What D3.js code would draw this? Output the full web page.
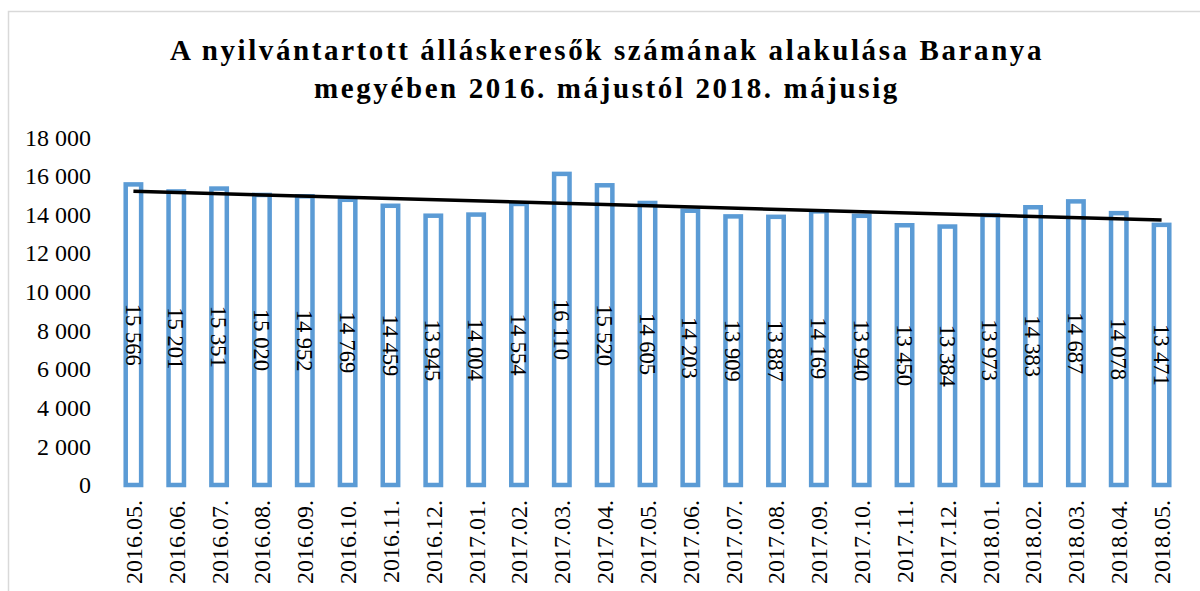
<!DOCTYPE html>
<html>
<head>
<meta charset="utf-8">
<script src="https://cdn.jsdelivr.net/npm/d3@7"></script>
<style>
    body { margin: 0; background: #fff; }
    text { font-family: 'Liberation Serif', 'Times New Roman', serif; fill: #000; }
</style>
</head>
<body>
<div id="chart"></div>
<script>
    var width = 1200,
        height = 591;

    var months = ['2016.05.', '2016.06.', '2016.07.', '2016.08.', '2016.09.', '2016.10.', '2016.11.', '2016.12.',
                  '2017.01.', '2017.02.', '2017.03.', '2017.04.', '2017.05.', '2017.06.', '2017.07.', '2017.08.',
                  '2017.09.', '2017.10.', '2017.11.', '2017.12.', '2018.01.', '2018.02.', '2018.03.', '2018.04.', '2018.05.'];
    var jobseekers = [15566, 15201, 15351, 15020, 14952, 14769, 14459, 13945, 14004, 14554, 16110, 15520, 14605,
                      14203, 13909, 13887, 14169, 13940, 13450, 13384, 13973, 14383, 14687, 14078, 13471];
    var yTicks = [0, 2000, 4000, 6000, 8000, 10000, 12000, 14000, 16000, 18000];
    var titleLines = ['A nyilvántartott álláskeresők számának alakulása Baranya',
                      'megyében 2016. májustól 2018. májusig'];

    var margin = {top: 137, right: 17, bottom: 106, left: 112};

    var fmt = function(v){ return d3.format(',')(v).replace(/,/g, ' '); };

    var svg = d3.select('#chart').append('svg')
        .attr('width', width)
        .attr('height', height);

    // chart area border
    svg.append('rect')
        .attr('x', 8.5).attr('y', 11.5)
        .attr('width', 1250).attr('height', 700)
        .style('fill', 'none')
        .style('stroke', '#d9d9d9')
        .style('stroke-width', 1.5);

    var x = d3.scaleBand()
        .domain(months)
        .range([margin.left, width - margin.right])
        .paddingInner(0.64)
        .paddingOuter(0.32);

    var y = d3.scaleLinear()
        .domain([0, 18000])
        .range([height - margin.bottom, margin.top + 0.4]);

    // title
    svg.append('text')
        .attr('text-anchor', 'middle')
        .style('font-weight', 'bold')
        .style('font-size', '29px')
        .style('letter-spacing', '2.6px')
        .selectAll('tspan')
        .data(titleLines)
        .enter().append('tspan')
        .attr('x', 607)
        .attr('y', function(d, i){ return 60 + i * 38; })
        .text(function(d){ return d; });

    // y axis labels
    var yAxis = d3.axisLeft(y)
        .tickValues(yTicks)
        .tickSize(0)
        .tickPadding(0)
        .tickFormat(fmt);

    svg.append('g')
        .attr('transform', 'translate(91,0)')
        .call(yAxis)
        .call(function(g){ g.select('.domain').remove(); })
        .selectAll('text')
        .style('font-size', '24px')
        .style('font-family', "'Liberation Serif', 'Times New Roman', serif");

    // x axis labels
    var xAxis = d3.axisBottom(x)
        .tickSize(0)
        .tickPadding(0);

    svg.append('g')
        .attr('transform', 'translate(0,' + (height - margin.bottom) + ')')
        .call(xAxis)
        .call(function(g){ g.select('.domain').remove(); })
        .selectAll('text')
        .attr('transform', 'rotate(-90)')
        .attr('x', -15)
        .attr('y', 0)
        .attr('dy', '0.35em')
        .attr('text-anchor', 'end')
        .style('font-size', '24px')
        .style('font-family', "'Liberation Serif', 'Times New Roman', serif");

    // bars
    svg.selectAll('rect.bar')
        .data(jobseekers)
        .enter().append('rect')
        .attr('class', 'bar')
        .attr('x', function(d, i){ return x(months[i]); })
        .attr('y', function(d){ return y(d); })
        .attr('width', x.bandwidth())
        .attr('height', function(d){ return y(0) - y(d); })
        .style('fill', '#fff')
        .style('stroke', '#5b9bd5')
        .style('stroke-width', 4.5);

    // data labels, rotated, centred in each bar
    svg.selectAll('text.label')
        .data(jobseekers)
        .enter().append('text')
        .attr('class', 'label')
        .attr('transform', function(d, i){
            var cx = x(months[i]) + x.bandwidth() / 2,
                cy = (y(d) + y(0)) / 2;
            return 'translate(' + cx + ',' + cy + ') rotate(90)';
        })
        .attr('text-anchor', 'middle')
        .attr('dy', '0.35em')
        .style('font-size', '22.5px')
        .text(fmt);

    // linear trendline
    var n = jobseekers.length,
        xs = d3.range(1, n + 1),
        mx = d3.mean(xs),
        my = d3.mean(jobseekers),
        slope = d3.sum(xs, function(v, i){ return (v - mx) * (jobseekers[i] - my); }) /
                d3.sum(xs, function(v){ return (v - mx) * (v - mx); }),
        icpt = my - slope * mx;

    var trend = d3.line()
        .x(function(d){ return x(months[d - 1]) + x.bandwidth() / 2; })
        .y(function(d){ return y(icpt + slope * d); });

    svg.append('path')
        .datum([1, n])
        .attr('d', trend)
        .style('fill', 'none')
        .style('stroke', '#000')
        .style('stroke-width', 3.5);
</script>
</body>
</html>
